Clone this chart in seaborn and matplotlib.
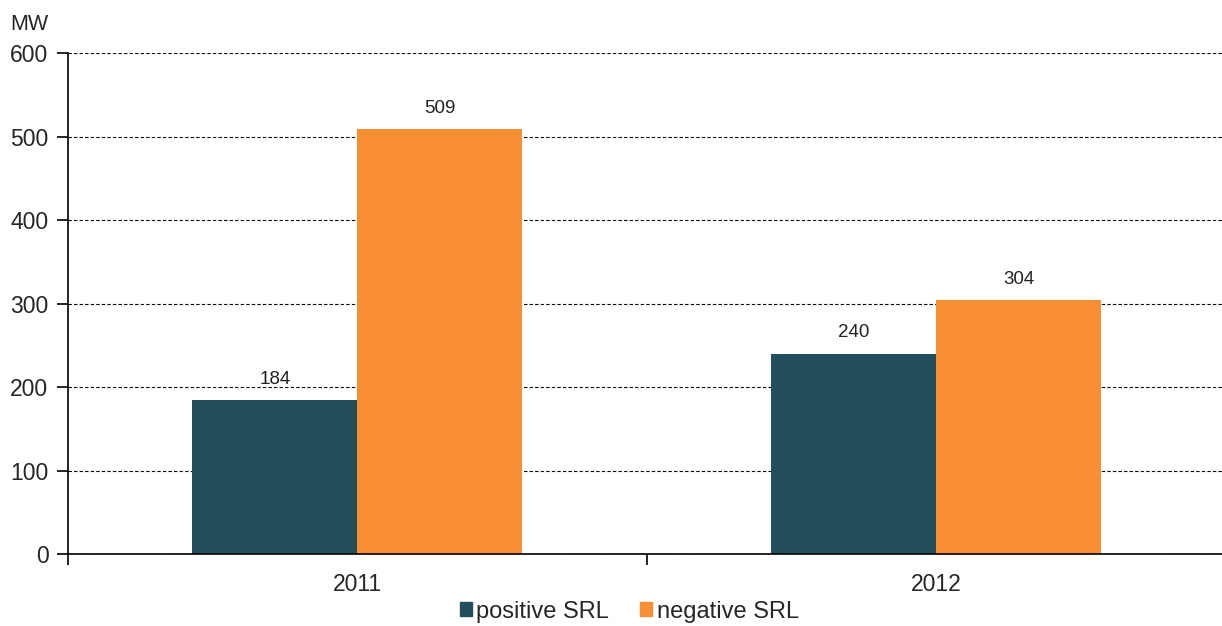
import pandas as pd
import numpy as np
import matplotlib.pyplot as plt
import seaborn as sns

years = ["2011", "2012"]
positive_srl = [184, 240]
negative_srl = [509, 304]
series = ["positive SRL", "negative SRL"]

df = pd.DataFrame({
    "year": years * 2,
    "serie": [series[0]] * 2 + [series[1]] * 2,
    "MW": positive_srl + negative_srl,
})

sns.set_style("white")
plt.rcParams['font.family'] = ['Liberation Sans', 'DejaVu Sans']

fig = plt.figure(figsize=(12.22, 6.26), dpi=100)
ax = fig.add_axes([0.0556, 0.115, 0.9476, 0.8])

pal = {"positive SRL": "#234f5c", "negative SRL": "#f98f35"}
sns.barplot(data=df, x="year", y="MW", hue="serie", palette=pal, width=0.57,
            saturation=1, ax=ax, legend=False, edgecolor="none")

for c in ax.containers:
    ax.bar_label(c, padding=9, fontsize=13.5, color="#222222")

ax.set_ylim(0, 600)
ax.set_xlim(-0.5, 1.5)
ax.set_yticks(range(0, 601, 100))
ax.yaxis.grid(True, linestyle=(0, (3, 2)), color="black", linewidth=0.8)
ax.set_axisbelow(True)
ax.set_xticks([-0.5, 0.5, 1.5])
ax.set_xticklabels([])
ax.set_xticks([0, 1], minor=True)
ax.set_xticklabels(years, minor=True)
ax.tick_params(bottom=True, left=True)
ax.tick_params(axis="x", which="major", direction="out", length=8, width=1.2, color="black")
ax.tick_params(axis="x", which="minor", bottom=False, length=0, labelsize=16.5, pad=14)
ax.tick_params(axis="y", direction="out", length=8, width=1.2, color="black", labelsize=16.5, pad=6)
ax.set_xlabel("")
ax.set_ylabel("")
for s in ["top", "right"]:
    ax.spines[s].set_visible(False)
ax.spines["left"].set_color("black")
ax.spines["bottom"].set_color("black")
ax.spines["left"].set_linewidth(1.2)
ax.spines["bottom"].set_linewidth(1.2)

fig.text(0.008, 0.952, "MW", fontsize=15.5)

handles = [plt.Rectangle((0, 0), 1, 1, color=pal[s]) for s in series]
fig.legend(handles, series, loc="center", bbox_to_anchor=(0.515, 0.023), ncol=2,
           frameon=False, fontsize=17, handlelength=0.5, handleheight=0.5,
           handletextpad=0.2, columnspacing=1.3)

plt.savefig("out.png", dpi=100)
